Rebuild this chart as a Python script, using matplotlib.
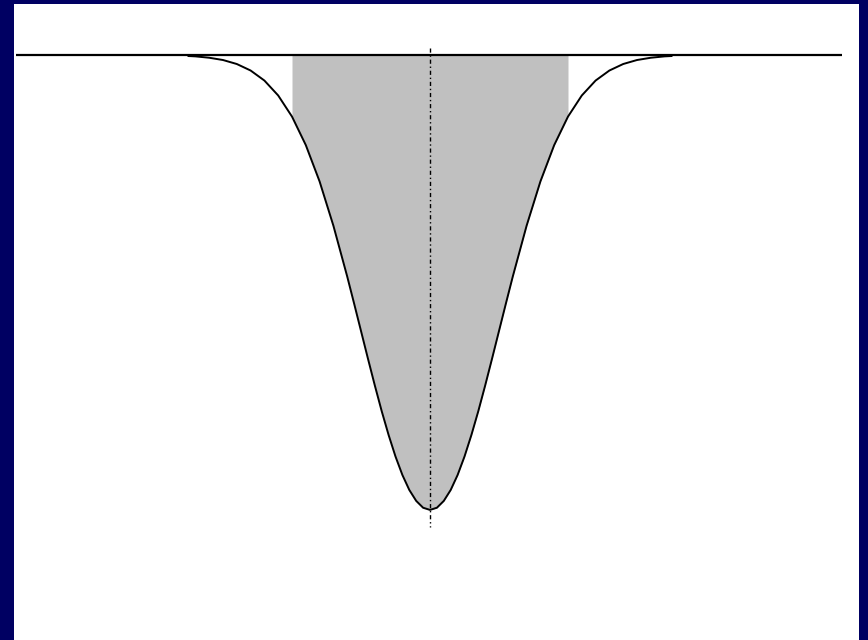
import matplotlib
matplotlib.use("Agg")
import matplotlib.pyplot as plt
import numpy as np

# ---------------------------
# Datos (curva normal)
# ---------------------------
z = [-3.5, -3.4, -3.2, -3.0, -2.8, -2.6, -2.4, -2.2, -2.0, -1.8, -1.6, -1.4,
     -1.2, -1.1, -1.0, -0.9, -0.8, -0.7, -0.6, -0.5, -0.4, -0.3, -0.2, -0.1,
     0.0, 0.1, 0.2, 0.3, 0.4, 0.5, 0.6, 0.7, 0.8, 0.9, 1.0, 1.1, 1.2,
     1.4, 1.6, 1.8, 2.0, 2.2, 2.4, 2.6, 2.8, 3.0, 3.2, 3.4, 3.5]
densidad = [0.0009, 0.0012, 0.0024, 0.0044, 0.0079, 0.0136, 0.0224, 0.0355,
            0.0540, 0.0790, 0.1109, 0.1497, 0.1942, 0.2179, 0.2420, 0.2661,
            0.2897, 0.3123, 0.3332, 0.3521, 0.3683, 0.3814, 0.3910, 0.3970,
            0.3989, 0.3970, 0.3910, 0.3814, 0.3683, 0.3521, 0.3332, 0.3123,
            0.2897, 0.2661, 0.2420, 0.2179, 0.1942, 0.1497, 0.1109, 0.0790,
            0.0540, 0.0355, 0.0224, 0.0136, 0.0079, 0.0044, 0.0024, 0.0012,
            0.0009]
zona = [-2.0, 2.0]  # limites del area sombreada

z = np.array(z)
densidad = np.array(densidad)

# ---------------------------
# Figura
# ---------------------------
fig = plt.figure(figsize=(8.68, 6.4), dpi=100)
fig.patch.set_facecolor("#000062")

ax = fig.add_axes([14 / 868, 0, 845 / 868, 636 / 640])
ax.set_facecolor("white")
ax.set_xticks([])
ax.set_yticks([])
for s in ax.spines.values():
    s.set_visible(False)

# Area sombreada
mask = (z >= zona[0]) & (z <= zona[1])
ax.fill_between(z, 0, densidad, where=mask, color="#c0c0c0", linewidth=0)

# Eje horizontal
ax.plot([-6.0, 5.97], [0, 0], color="black", linewidth=1.6,
        solid_capstyle="butt")

# Curva
ax.plot(z, densidad, color="black", linewidth=1.4)

# Linea central
ax.plot([0, 0], [-0.006, 0.414], color="black", linewidth=1,
        linestyle=(0, (3, 2, 1, 2)))

ax.set_xlim(-416 / 69, 429 / 69)
ax.set_ylim(585 / 1140.4, -51 / 1140.4)

fig.savefig("out.png", dpi=100, facecolor=fig.get_facecolor())
plt.close(fig)
